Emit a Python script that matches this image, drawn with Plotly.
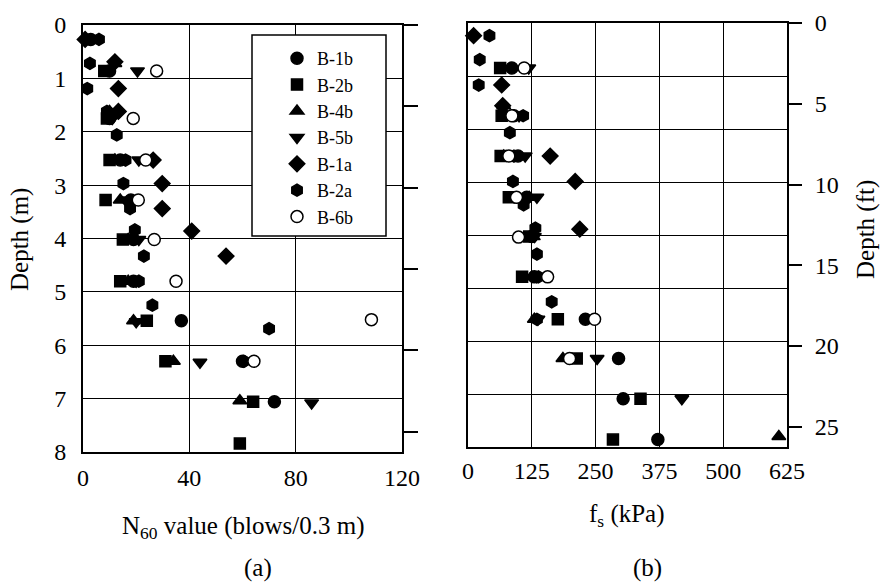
import plotly.graph_objects as go

# ---------------- data ----------------
series_names = ["B-1b", "B-2b", "B-4b", "B-5b", "B-1a", "B-2a", "B-6b"]

# Panel (a): N60 value vs depth (m)
a_B1b_depth = [0.27, 0.86, 1.75, 2.53, 3.28, 4.02, 4.80, 5.54, 6.30, 7.06]
a_B1b_n60 = [2.9, 10, 10, 14, 18, 19, 19, 37, 60, 72]
a_B2b_depth = [0.86, 1.75, 2.53, 3.28, 4.02, 4.80, 5.54, 6.30, 7.06, 7.84]
a_B2b_n60 = [8, 9, 10, 8.5, 15, 14, 24, 31, 64, 59]
a_B4b_depth = [0.72, 1.62, 2.53, 3.28, 4.02, 4.80, 5.54, 6.30, 7.04]
a_B4b_n60 = [12, 10, 12, 14, 17, 17, 19, 34, 59]
a_B5b_depth = [0.86, 1.75, 2.53, 3.28, 4.02, 4.80, 5.56, 6.32, 7.08]
a_B5b_n60 = [20.5, 11, 21, 16, 21, 20, 20, 44, 86]
a_B1a_depth = [0.27, 0.69, 1.19, 1.62, 2.53, 2.97, 3.44, 3.86, 4.33]
a_B1a_n60 = [0.8, 12, 13.3, 13.3, 26.4, 29.8, 29.8, 40.9, 53.8]
a_B2a_depth = [0.27, 0.72, 1.19, 1.62, 2.06, 2.53, 2.97, 3.44, 3.84, 4.33, 4.80, 5.25, 5.69, 6.30]
a_B2a_n60 = [6.0, 2.6, 1.6, 9, 12.7, 16, 15.2, 17.7, 19.5, 22.9, 21, 26.1, 70, 60.5]
a_B6b_depth = [0.86, 1.75, 2.53, 3.28, 4.02, 4.80, 5.52, 6.30]
a_B6b_n60 = [27.7, 18.9, 23.6, 20.8, 26.8, 35, 108.5, 64.3]

# Panel (b): fs (kPa) vs depth (m)
b_B1b_depth = [0.85, 1.75, 2.51, 3.29, 4.03, 4.79, 5.59, 6.33, 7.09, 7.86]
b_B1b_fs = [86, 90, 98, 115, 125, 130, 230, 295, 304, 372]
b_B2b_depth = [0.85, 1.75, 2.51, 3.29, 4.03, 4.79, 5.59, 6.33, 7.09, 7.86]
b_B2b_fs = [63, 66, 64, 80, 120, 106, 176, 213, 338, 284]
b_B4b_depth = [1.56, 2.51, 3.29, 4.03, 4.79, 5.59, 6.33, 7.80]
b_B4b_fs = [70, 70, 120, 128, 125, 130, 186, 609]
b_B5b_depth = [0.85, 1.75, 2.51, 3.29, 4.03, 4.79, 5.59, 6.33, 7.09]
b_B5b_fs = [119, 100, 112, 135, 130, 135, 137, 253, 419]
b_B1a_depth = [0.24, 1.17, 1.56, 2.51, 2.99, 3.89]
b_B1a_fs = [11, 66, 68, 161, 210, 219]
b_B2a_depth = [0.24, 0.69, 1.17, 1.75, 2.07, 2.51, 2.99, 3.43, 3.87, 4.36, 4.79, 5.26, 5.59]
b_B2a_fs = [42, 23, 21, 108, 82, 90, 88, 109, 132, 135, 138, 164, 135]
b_B6b_depth = [0.85, 1.75, 2.51, 3.29, 4.04, 4.79, 5.59, 6.33]
b_B6b_fs = [110, 86, 80, 95, 99, 156, 248, 199]

M_TO_FT = 3.28084
depth_max_m = 8

panel_a = [
    (a_B1b_n60, a_B1b_depth), (a_B2b_n60, a_B2b_depth), (a_B4b_n60, a_B4b_depth),
    (a_B5b_n60, a_B5b_depth), (a_B1a_n60, a_B1a_depth), (a_B2a_n60, a_B2a_depth),
    (a_B6b_n60, a_B6b_depth),
]
panel_b = [
    (b_B1b_fs, b_B1b_depth), (b_B2b_fs, b_B2b_depth), (b_B4b_fs, b_B4b_depth),
    (b_B5b_fs, b_B5b_depth), (b_B1a_fs, b_B1a_depth), (b_B2a_fs, b_B2a_depth),
    (b_B6b_fs, b_B6b_depth),
]

# ---------------- styles ----------------
styles = {
    "B-1b": dict(symbol="circle", size=12, color="black"),
    "B-2b": dict(symbol="square", size=11, color="black"),
    "B-4b": dict(symbol="triangle-up", size=12, color="black"),
    "B-5b": dict(symbol="triangle-down", size=12, color="black"),
    "B-1a": dict(symbol="diamond", size=12, color="black"),
    "B-2a": dict(symbol="hexagon", size=12, color="black"),
    "B-6b": dict(symbol="circle", size=12, color="white"),
}

FONT = "Liberation Serif"
fig = go.Figure()

for name, (xa, ya), (xb, yb) in zip(series_names, panel_a, panel_b):
    st = styles[name]
    mk = dict(symbol=st["symbol"], size=st["size"], color=st["color"],
              line=dict(color="black", width=1.5))
    fig.add_trace(go.Scatter(x=xa, y=ya, mode="markers", name=name, marker=mk,
                             xaxis="x", yaxis="y", cliponaxis=False,
                             legendgroup=name, showlegend=True))
    fig.add_trace(go.Scatter(x=xb, y=yb, mode="markers", name=name, marker=mk,
                             xaxis="x2", yaxis="y2", cliponaxis=False,
                             legendgroup=name, showlegend=False))

# invisible traces so the feet axes are drawn
fig.add_trace(go.Scatter(x=[None], y=[None], xaxis="x", yaxis="y3", showlegend=False, hoverinfo="skip"))
fig.add_trace(go.Scatter(x=[None], y=[None], xaxis="x2", yaxis="y4", showlegend=False, hoverinfo="skip"))

W, H = 882, 583
def px(v): return v / W
def py(v): return 1 - v / H

axis_common = dict(showline=True, linecolor="black", linewidth=2, mirror=True,
                   showgrid=True, gridcolor="black", gridwidth=1.3, zeroline=False,
                   automargin=False,
                   ticks="", tickfont=dict(family=FONT, size=24, color="black"))

def note(text, x, y, angle=0):
    return dict(text=text, x=px(x), y=py(y), xref="paper", yref="paper",
                xanchor="center", yanchor="middle", textangle=angle,
                showarrow=False, font=dict(family=FONT, size=25, color="black"))

fig.update_layout(
    template="none",
    width=W, height=H,
    margin=dict(l=0, r=0, t=0, b=0, pad=0),
    paper_bgcolor="white", plot_bgcolor="white",
    font=dict(family=FONT, size=24, color="black"),
    xaxis=dict(domain=[px(83), px(402)], range=[0, 120], dtick=40, anchor="y",
               ticklabelstandoff=3, **axis_common),
    yaxis=dict(domain=[py(452), py(25)], range=[depth_max_m, 0], dtick=1, anchor="x",
               ticklabelstandoff=10, **axis_common),
    yaxis3=dict(overlaying="y", anchor="x", side="right", automargin=False,
                range=[depth_max_m * M_TO_FT, 0], dtick=5, showgrid=False, zeroline=False,
                showline=False, ticks="outside", ticklen=15, tickwidth=1.5, tickcolor="black",
                showticklabels=False),
    xaxis2=dict(domain=[px(468), px(787)], range=[0, 625], dtick=125, anchor="y2",
                ticklabelstandoff=1, **axis_common),
    yaxis2=dict(domain=[py(447), py(23)], range=[depth_max_m, 0], dtick=1, anchor="x2",
                showticklabels=False, **{k: v for k, v in axis_common.items() if k != "tickfont"}),
    yaxis4=dict(overlaying="y2", anchor="x2", side="right", automargin=False,
                range=[depth_max_m * M_TO_FT, 0], dtick=5, showgrid=False, zeroline=False,
                showline=False, ticks="outside", ticklen=14, tickwidth=1.5, tickcolor="black",
                ticklabelstandoff=8,
                tickfont=dict(family=FONT, size=24, color="black")),
    legend=dict(x=px(277), y=py(40), xanchor="left", yanchor="top",
                bgcolor="rgba(0,0,0,0)", borderwidth=0, tracegroupgap=0,
                font=dict(family=FONT, size=18, color="black")),
    shapes=[dict(type="rect", xref="paper", yref="paper",
                 x0=px(252), x1=px(386), y0=py(236), y1=py(35),
                 fillcolor="white", line=dict(color="black", width=1.5), layer="above")],
    annotations=[
        note("Depth (m)", 20, 240, -90),
        note("N<sub>60</sub> value (blows/0.3 m)", 243, 527),
        note("(a)", 258, 568),
        note("f<sub>s</sub> (kPa)", 627, 515),
        note("(b)", 647, 568),
        note("Depth (ft)", 866, 230, -90),
    ],
)

fig.write_html("out.html")
